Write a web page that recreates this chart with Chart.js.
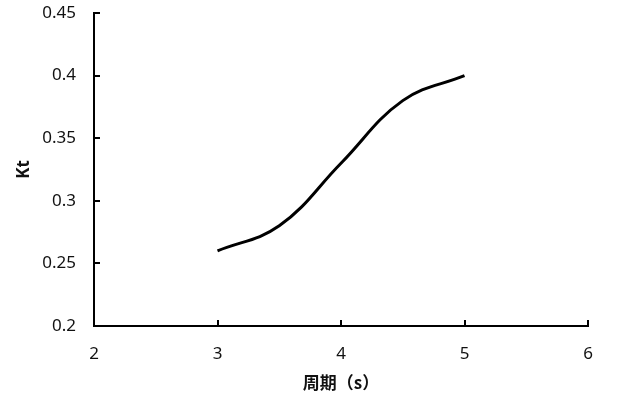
<!DOCTYPE html>
<html>
<head>
<meta charset="utf-8">
<script src="https://cdn.jsdelivr.net/npm/chart.js@4"></script>
<style>
  html, body { margin: 0; padding: 0; background: #fff; }
  #wrap { width: 626px; height: 405px; }
</style>
</head>
<body>
<div id="wrap"><canvas id="chart"></canvas></div>
<script>
const periods = [3, 3.5, 4, 4.5, 5]
const ktValues = [0.26, 0.28, 0.33, 0.38, 0.40]
const xTitle = '周期（s）'
const yTitle = 'Kt'

const points = periods.map((p, i) => ({ x: p, y: ktValues[i] }))

// short tick marks pointing into the plot, like the excel original
const innerTicks = {
  id: 'innerTicks',
  afterDatasetsDraw(chart) {
    const { ctx, chartArea, scales } = chart
    ctx.save()
    ctx.strokeStyle = '#000'
    ctx.lineWidth = 2
    scales.x.ticks.forEach((t) => {
      const px = Math.round(scales.x.getPixelForValue(t.value))
      ctx.beginPath()
      ctx.moveTo(px, chartArea.bottom)
      ctx.lineTo(px, chartArea.bottom - 6)
      ctx.stroke()
    })
    scales.y.ticks.forEach((t) => {
      const py = Math.round(scales.y.getPixelForValue(t.value))
      ctx.beginPath()
      ctx.moveTo(chartArea.left, py)
      ctx.lineTo(chartArea.left + 6, py)
      ctx.stroke()
    })
    ctx.restore()
  },
}

const ctx = document.getElementById('chart').getContext('2d')
new Chart(ctx, {
  type: 'scatter',
  data: {
    datasets: [
      {
        data: points,
        showLine: true,
        borderColor: '#000',
        borderWidth: 3,
        pointRadius: 0,
        tension: 0.4,
        fill: false,
      },
    ],
  },
  options: {
    responsive: true,
    maintainAspectRatio: false,
    animation: false,
    layout: { padding: { left: 10, right: 38, top: 13, bottom: 8 } },
    plugins: {
      legend: { display: false },
      tooltip: { enabled: false },
    },
    scales: {
      x: {
        type: 'linear',
        min: 2,
        max: 6,
        afterFit(scale) { scale.height = 71 },
        ticks: {
          stepSize: 1,
          padding: 18,
          color: '#111',
          font: { family: 'Noto Sans', size: 17 },
        },
        grid: { display: true, drawOnChartArea: false, drawTicks: false },
        border: { display: true, color: '#000', width: 2 },
        title: {
          display: true,
          text: xTitle,
          color: '#111',
          padding: { top: 4 },
          font: { family: 'Noto Sans CJK SC', size: 17, weight: 'bold' },
        },
      },
      y: {
        min: 0.2,
        max: 0.45,
        afterFit(scale) {
          scale.width = 84
          scale.paddingTop = 0
          scale.paddingBottom = 0
        },
        ticks: {
          stepSize: 0.05,
          padding: 18,
          color: '#111',
          font: { family: 'Noto Sans', size: 17 },
          callback: (v) => String(Number(v.toFixed(2))),
        },
        grid: { display: true, drawOnChartArea: false, drawTicks: false },
        border: { display: true, color: '#000', width: 2 },
        title: {
          display: true,
          text: yTitle,
          color: '#111',
          padding: { bottom: 0 },
          font: { family: 'Noto Sans', size: 17, weight: 'bold' },
        },
      },
    },
  },
  plugins: [innerTicks],
})
</script>
</body>
</html>
